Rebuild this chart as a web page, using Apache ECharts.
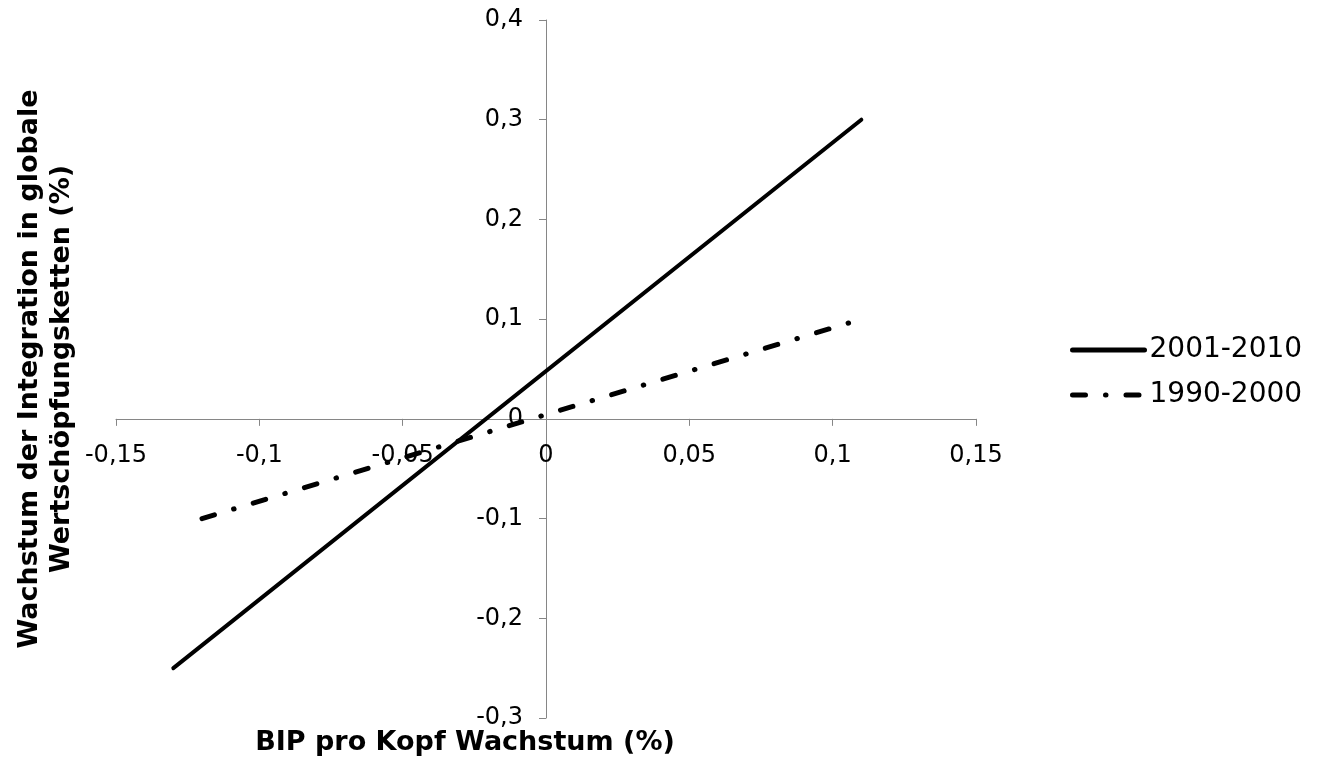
<!DOCTYPE html>
<html>
<head>
<meta charset="utf-8">
<script src="https://cdn.jsdelivr.net/npm/echarts@6/dist/echarts.min.js"></script>
<style>html,body{margin:0;padding:0;background:#fff;}#c{width:1328px;height:764px;}</style>
</head>
<body>
<div id="c"></div>
<script>
var seriesNames = ['2001-2010', '1990-2000'];
var line2001 = [[-0.13, -0.25], [0.11, 0.3]];
var line1990 = [[-0.12, -0.1], [0.11, 0.1]];
var xTicks = [-0.15, -0.1, -0.05, 0, 0.05, 0.1, 0.15];
var yTicks = [-0.3, -0.2, -0.1, 0, 0.1, 0.2, 0.3, 0.4];
var xTitle = 'BIP pro Kopf Wachstum (%)';
var yTitle = 'Wachstum der Integration in globale\nWertschöpfungsketten (%)';

var FONT = '"DejaVu Sans", Verdana, sans-serif';
var GRID = {left: 116, right: 352, top: 20, bottom: 46};
var W = 1328, H = 764;
var xMin = xTicks[0], xMax = xTicks[xTicks.length - 1];
var yMin = yTicks[0], yMax = yTicks[yTicks.length - 1];
var plotW = W - GRID.left - GRID.right, plotH = H - GRID.top - GRID.bottom;
// shift axes to cross at the origin
var xAxisOffset = -plotH * (0 - yMin) / (yMax - yMin);
var yAxisOffset = -plotW * (0 - xMin) / (xMax - xMin);

function fmt(v) {
  var r = Math.round(v * 100) / 100;
  return String(r).replace('.', ',');
}
var chart = echarts.init(document.getElementById('c'), null, {renderer: 'canvas'});
chart.setOption({
  animation: false,
  backgroundColor: '#ffffff',
  grid: {left: GRID.left, right: GRID.right, top: GRID.top, bottom: GRID.bottom, containLabel: false},
  xAxis: {
    type: 'value', min: xMin, max: xMax, interval: 0.05, position: 'bottom', offset: xAxisOffset,
    axisLine: {onZero: false, lineStyle: {color: '#868686', width: 1}},
    axisTick: {show: true, length: 7, lineStyle: {color: '#868686'}},
    splitLine: {show: false},
    axisLabel: {fontFamily: FONT, fontSize: 24, color: '#000', margin: 25,
      formatter: function (v) { return fmt(v); }}
  },
  yAxis: {
    type: 'value', min: yMin, max: yMax, interval: 0.1, position: 'left', offset: yAxisOffset,
    axisLine: {onZero: false, lineStyle: {color: '#868686', width: 1}},
    axisTick: {show: true, length: 7, lineStyle: {color: '#868686'}},
    splitLine: {show: false},
    axisLabel: {fontFamily: FONT, fontSize: 24, color: '#000', margin: 23,
      formatter: function (v) { return fmt(v); }}
  },
  legend: {
    orient: 'vertical', left: 1065, top: 331,
    itemWidth: 72, itemHeight: 14, itemGap: 17,
    itemStyle: {opacity: 0},
    lineStyle: {width: 5},
    textStyle: {fontFamily: FONT, fontSize: 28, color: '#000', padding: [0, 0, 0, 0]},
    data: seriesNames
  },
  series: [
    {name: seriesNames[0], type: 'line', data: line2001, symbol: 'none',
      lineStyle: {color: '#000', width: 4, cap: 'round'}, itemStyle: {color: '#000'}},
    {name: seriesNames[1], type: 'line', data: line1990, symbol: 'none',
      lineStyle: {color: '#000', width: 5, type: [13, 20, 0.5, 20], cap: 'round'}, itemStyle: {color: '#000'}}
  ],
  graphic: [
    {type: 'text', x: 465, y: 743, style: {text: xTitle, font: 'bold 27px ' + FONT, fill: '#000', textAlign: 'center', textVerticalAlign: 'middle'}},
    {type: 'text', x: 46, y: 369, rotation: Math.PI / 2, style: {text: yTitle, font: 'bold 27px ' + FONT, fill: '#000', textAlign: 'center', textVerticalAlign: 'middle', lineHeight: 32}}
  ]
});
</script>
</body>
</html>
